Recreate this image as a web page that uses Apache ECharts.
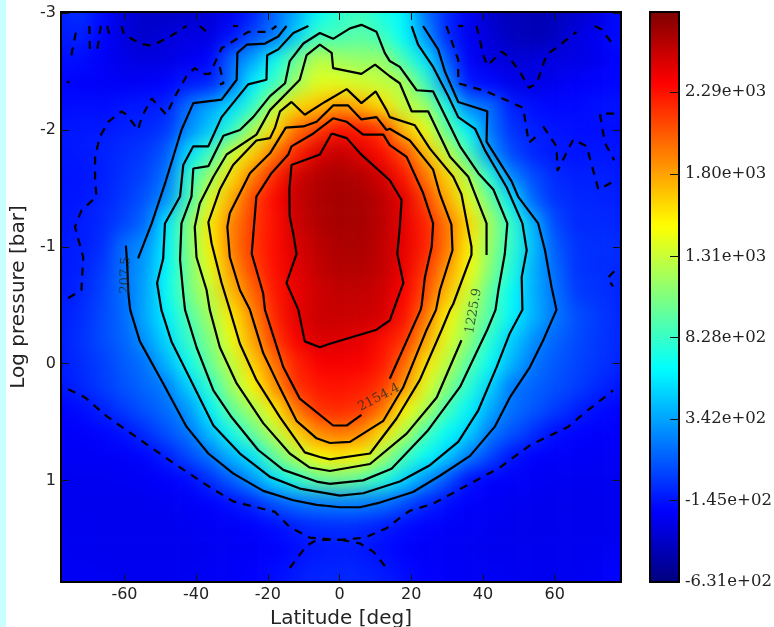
<!DOCTYPE html>
<html><head><meta charset="utf-8">
<style>
html,body{margin:0;padding:0;width:774px;height:627px;overflow:hidden;background:linear-gradient(90deg,#c8ffff 6px,#fff 6px)}
#c{position:absolute;left:0;top:-30px;width:774px;height:657px}
</style>
<script src="https://cdn.jsdelivr.net/npm/echarts@6/dist/echarts.min.js"></script>
</head><body><div id="c"></div>
<script>
const latitudes=[-84,-78,-72,-66,-60,-54,-48,-42,-36,-30,-24,-18,-12,-6,0,6,12,18,24,30,36,42,48,54,60,66,72,78,84];
const pressures=[-3.2,-3,-2.8,-2.6,-2.4,-2.2,-2,-1.8,-1.6,-1.4,-1.2,-1,-0.8,-0.6,-0.4,-0.2,0,0.2,0.4,0.6,0.8,1,1.2,1.4,1.6,1.8,2];
const field=[
[-160,-110,-60,-190,-340,-390,-410,-390,-340,-260,-110,140,340,620,780,830,700,600,140,-90,-260,-390,-440,-460,-440,-390,-310,-190,-160],
[-150,-100,-50,-180,-330,-380,-400,-380,-330,-250,-100,150,370,650,800,850,720,620,160,-70,-250,-380,-430,-450,-430,-380,-300,-180,-150],
[-150,-120,-100,-200,-320,-380,-320,-300,-300,-150,50,180,500,860,880,950,850,640,300,-80,-250,-330,-420,-450,-420,-300,-250,-170,-150],
[-170,-160,-170,-230,-280,-310,-300,-250,-200,150,350,680,1000,1280,1180,1130,1160,860,570,100,-230,-300,-340,-330,-300,-300,-260,-200,-170],
[-180,-190,-220,-230,-240,-230,-200,-130,-100,170,620,830,1180,1400,1400,1350,1290,1226,840,280,-150,-190,-270,-290,-260,-220,-200,-190,-170],
[-170,-170,-160,-170,-140,-120,-100,190,350,530,800,1290,1620,1700,1840,1750,1600,1280,1180,720,230,170,-110,-160,-190,-180,-150,-150,-150],
[-150,-140,-130,-130,-100,-80,-20,260,470,790,1220,1590,1980,2150,2300,2260,2150,1700,1440,950,620,190,-50,-100,-140,-160,-170,-170,-170],
[-160,-140,-130,-100,-60,-20,100,550,840,1340,1640,1950,2230,2460,2540,2450,2300,2100,1720,1300,860,300,30,-90,-130,-150,-130,-150,-150],
[-160,-150,-140,-110,-40,20,190,800,1170,1600,1930,2230,2500,2590,2620,2590,2490,2280,1950,1640,1230,750,240,50,-70,-110,-100,-130,-140],
[-160,-150,-130,-90,-20,80,290,860,1400,1780,2120,2330,2530,2610,2640,2630,2560,2430,2130,1760,1400,1010,570,120,-40,-80,-90,-110,-130],
[-150,-140,-120,-70,20,150,590,1090,1560,1900,2150,2300,2510,2600,2640,2630,2570,2420,2230,1950,1620,1190,800,400,30,-70,-70,-90,-120],
[-160,-130,-110,-60,180,280,620,1080,1530,1920,2170,2310,2470,2560,2610,2620,2550,2420,2240,1950,1540,1140,800,440,100,-40,-50,-60,-90],
[-150,-130,-100,-10,180,330,650,1040,1430,1830,2120,2300,2440,2540,2590,2590,2540,2400,2160,1830,1480,1080,740,390,150,-40,-50,-80,-90],
[-150,-130,-80,20,170,350,670,1030,1290,1720,2000,2270,2410,2500,2540,2540,2500,2340,2090,1690,1340,950,650,380,190,-10,-40,-90,-100],
[-150,-120,-60,40,150,370,610,900,1200,1550,1890,2230,2430,2520,2520,2510,2490,2300,1950,1520,1180,920,620,400,200,60,-10,-80,-100],
[-150,-110,-40,50,130,300,530,830,1080,1450,1800,2150,2360,2470,2450,2430,2300,2190,1790,1390,1130,760,490,270,130,40,-20,-80,-100],
[-160,-120,-60,0,100,180,410,690,1000,1300,1650,1970,2240,2360,2380,2360,2270,2010,1580,1280,930,670,400,190,90,20,-30,-90,-110],
[-170,-135,-80,-5,70,145,220,500,810,1170,1510,1860,2190,2270,2290,2260,2170,1840,1400,1090,780,500,190,130,60,0,-70,-140,-150],
[-214,-200,-170,-95,-10,75,165,300,620,980,1210,1540,1950,2180,2210,2170,1960,1510,1230,860,620,360,170,85,-5,-100,-170,-200,-205],
[-222,-218,-214,-190,-150,-50,68,187,430,710,990,1270,1630,1880,1950,1880,1580,1250,880,650,500,200,75,-50,-170,-200,-214,-218,-222],
[-240,-240,-236,-232,-222,-195,-105,40,183,400,570,980,1250,1500,1560,1510,1190,870,650,480,207,30,-150,-205,-222,-232,-236,-240,-240],
[-250,-250,-254,-254,-246,-232,-214,-180,-50,110,300,550,780,960,1010,920,770,520,290,70,-160,-205,-222,-240,-250,-254,-254,-250,-250],
[-254,-254,-258,-260,-264,-258,-250,-232,-210,-160,-70,60,170,210,230,220,180,50,-80,-170,-214,-232,-250,-258,-264,-264,-258,-254,-250],
[-250,-250,-254,-258,-264,-264,-258,-250,-240,-230,-205,-170,-110,-70,-60,-70,-120,-170,-205,-230,-240,-250,-258,-268,-264,-258,-258,-254,-250],
[-240,-250,-254,-258,-258,-258,-258,-258,-250,-240,-230,-210,-170,-130,-115,-125,-170,-210,-230,-240,-250,-258,-258,-258,-258,-258,-254,-240,-235],
[-235,-240,-240,-250,-254,-254,-254,-250,-240,-230,-210,-170,-120,-90,-80,-90,-120,-170,-205,-222,-240,-240,-250,-254,-254,-250,-240,-200,-170],
[-230,-235,-240,-245,-250,-250,-250,-245,-235,-225,-205,-165,-115,-85,-75,-85,-115,-165,-200,-218,-235,-240,-245,-250,-250,-245,-235,-190,-150]
];
const latTicks=[-60,-40,-20,0,20,40,60];
const pressureTicks=[-3,-2,-1,0,1];
const colorbarTicks=[-631,-145,342,828,1310,1800,2290];
const colorbarLabels=['-6.31e+02','-1.45e+02','3.42e+02','8.28e+02','1.31e+03','1.80e+03','2.29e+03'];
const jet=['#00007f','#0000ff','#007fff','#00ffff','#7fff7f','#ffff00','#ff7f00','#ff0000','#7f0000'];

const contour0=[[-2.2,-1.97],[2,-1.93],[5.7,-1.8],[14,-1.57],[17.3,-1.4],[16.8,-1.17],[16.1,-0.94],[17.8,-0.69],[14,-0.37],[10.3,-0.29],[-2.7,-0.17],[-5.5,-0.14],[-9.7,-0.19],[-11.5,-0.46],[-14.8,-0.69],[-12,-0.94],[-12.9,-1.11],[-13.9,-1.26],[-14,-1.49],[-13.4,-1.7],[-5.5,-1.79],[-2.2,-1.97]];
const contour1a=[[14,0.13],[22.6,-0.46],[22.9,-0.5],[23.8,-0.74],[25.7,-1],[26.1,-1.2],[23.3,-1.46],[18.7,-1.77],[14,-1.87],[12.2,-1.96],[6.6,-1.96],[2,-2.07],[-1.8,-2.1],[-7.3,-1.97],[-13.4,-1.86],[-14.3,-1.79],[-19,-1.63],[-23.2,-1.43],[-24.5,-0.94],[-21.3,-0.6],[-20.8,-0.46],[-15.7,0.03],[-11.1,0.3],[-1.8,0.53],[2,0.53],[6.1,0.44]];
const contour2=[[-2.7,0.68],[2.9,0.67],[12.2,0.49],[17.8,0.2],[24.3,-0.29],[26.9,-0.46],[28,-0.63],[31.5,-0.97],[31.2,-1.19],[28,-1.45],[26.1,-1.66],[19.6,-1.91],[14,-2.01],[13.1,-2],[10.3,-2.11],[6.1,-2.09],[2.4,-2.21],[-1.8,-2.21],[-6.4,-2.07],[-10.1,-2.03],[-15,-2.02],[-19.4,-1.8],[-25,-1.63],[-30.6,-1.29],[-31.3,-1.17],[-30.6,-0.91],[-27.8,-0.63],[-25,-0.46],[-21.3,-0.09],[-16.6,0.21],[-12,0.49],[-6.4,0.64],[-2.7,0.68]];
const contour3=[[-2.7,0.82],[8.5,0.77],[15.9,0.47],[22.4,0.14],[28.5,-0.29],[30.8,-0.46],[31.7,-0.51],[36.8,-0.93],[36.8,-1],[34,-1.45],[31.7,-1.6],[25.2,-1.84],[21,-2.04],[14,-2.11],[13.1,-2.17],[10.1,-2.33],[6.1,-2.23],[2,-2.35],[-4.1,-2.24],[-9.7,-2.13],[-13.4,-2.24],[-16.6,-2.16],[-18,-2.02],[-19.4,-1.93],[-23.2,-1.91],[-29.7,-1.7],[-33.4,-1.49],[-36.6,-1.21],[-35.7,-1.03],[-32.9,-0.69],[-30.6,-0.46],[-27.8,-0.17],[-23.2,0.14],[-16.6,0.46],[-9.7,0.76],[-5.5,0.8],[-2.7,0.82]];
const contour4a=[[34,-0.2],[27.1,0.29],[18.7,0.6],[8.5,0.86],[-2.7,0.92],[-8.3,0.89],[-13.9,0.77],[-21.3,0.51],[-28.7,0.17],[-33.4,-0.14],[-36.2,-0.46],[-37.1,-0.63],[-39.9,-0.91],[-40.4,-1.17],[-39,-1.37],[-35.2,-1.6],[-31.5,-1.79],[-23.2,-1.96],[-19.4,-2.17],[-11.1,-2.43],[-9.2,-2.64],[-5.5,-2.73],[-2.2,-2.66],[-1.8,-2.53],[6.1,-2.48],[9.9,-2.56],[14,-2.46],[16.8,-2.4],[20.1,-2.16],[24.7,-2.16],[30.8,-1.77],[35.9,-1.6],[37.3,-1.49],[41,-1.2],[41,-0.93]];
const contour5=[[-2.7,1.03],[6.6,1],[14.5,0.9],[24.7,0.57],[33.6,0.2],[41.2,-0.29],[43.5,-0.46],[44.3,-0.63],[46.1,-0.94],[46.8,-1.2],[42.9,-1.49],[38.7,-1.63],[33.6,-1.86],[26.1,-2.33],[21.5,-2.34],[16.8,-2.54],[14,-2.59],[12.6,-2.66],[10.3,-2.84],[6.1,-2.9],[2.9,-2.87],[-1.8,-2.78],[-5.5,-2.83],[-10.1,-2.74],[-13.9,-2.59],[-15.2,-2.4],[-19.4,-2.29],[-24.1,-2.11],[-27.8,-2],[-32.4,-1.95],[-36.6,-1.69],[-40.8,-1.67],[-41.3,-1.43],[-44.1,-1.2],[-44.5,-0.89],[-43.6,-0.6],[-43.1,-0.46],[-39.9,-0.14],[-35.2,0.23],[-30.1,0.46],[-22.7,0.74],[-15.7,0.91],[-6.4,1.01],[-2.7,1.03]];
const contour6=[[-8.7,-2.89],[-12.9,-2.83],[-17.1,-2.69],[-20.2,-2.64],[-20.4,-2.43],[-25.5,-2.39],[-32.9,-2.11],[-36.6,-1.86],[-40.8,-1.86],[-43.6,-1.7],[-44.5,-1.43],[-48.7,-1.2],[-49.2,-0.9],[-50.9,-0.69],[-49.7,-0.46],[-46.9,-0.19],[-41.7,0.13],[-35.2,0.53],[-27.8,0.77],[-19.4,0.97],[-11.1,1.07],[0.1,1.13],[6.6,1.11],[16.8,1.01],[25.2,0.87],[33.1,0.67],[38.7,0.4],[43.8,0.03],[47.5,-0.26],[51,-0.46],[50.8,-0.74],[52.2,-0.97],[51,-1.2],[46.6,-1.51],[40.5,-1.83],[37.8,-2.01],[33.1,-2.11],[30.3,-2.29],[26.1,-2.54],[21.9,-2.73],[20.1,-2.89]];
const contour7a=[[-14.8,-2.89],[-17.1,-2.8],[-20.8,-2.74],[-25.9,-2.73],[-28.5,-2.66],[-28.7,-2.43],[-32.9,-2.26],[-40.8,-2.23],[-44.1,-2],[-48.7,-1.54],[-52.4,-1.2],[-56.2,-0.9]];
const contour7b=[[-59.6,-1.01],[-59.2,-0.83],[-58.9,-0.6],[-58.4,-0.46],[-55.7,-0.19],[-49.2,0.17],[-42.7,0.54],[-36.6,0.77],[-29.7,0.94],[-21.3,1.09],[-12.9,1.17],[-6.4,1.21],[0.1,1.23],[5.7,1.23],[11.3,1.19],[20.5,1.1],[28,0.96],[36.4,0.79],[43.3,0.54],[47.5,0.29],[53.1,0.03],[56.8,-0.2],[60.5,-0.46],[59.1,-0.66],[57.3,-0.97],[55.4,-1.2],[49.8,-1.43],[48,-1.56],[41,-1.9],[41.2,-2.16],[33.1,-2.24],[29.4,-2.5],[27.5,-2.69],[23.3,-2.89]];
const solidContours=[contour0,contour1a,contour2,contour3,contour4a,contour5,contour6,contour7a,contour7b];

const dashedLower=[[-75.7,0.22],[-71,0.29],[-65,0.45],[-56.2,0.64],[-46.9,0.84],[-37.6,1.03],[-29.7,1.18],[-23.2,1.23],[-18,1.27],[-13.9,1.4],[-8.3,1.49],[0.1,1.51],[7.1,1.49],[13.1,1.41],[17.3,1.31],[19.6,1.26],[26.1,1.2],[34.5,1.06],[44.7,0.89],[53.1,0.7],[63.8,0.54],[68,0.43],[76.3,0.23]];
const dashedBottomLeft=[[-13.9,1.75],[-9.2,1.56],[-6.4,1.51],[0.1,1.51]];
const dashedBottomRight=[[0.5,1.51],[5.7,1.54],[9.4,1.61],[13.1,1.75]];
const dashedLeft=[[-75.7,-0.56],[-72,-0.63],[-71.5,-0.91],[-73.8,-1.17],[-72,-1.31],[-67.8,-1.43],[-68.2,-1.57],[-68.2,-1.77],[-66.9,-1.94],[-64.5,-2.07],[-60.8,-2.16],[-59.4,-2.13],[-56.2,-2],[-55.2,-2.11],[-52.4,-2.27],[-48.3,-2.13],[-45.5,-2.31],[-42.7,-2.46],[-40.4,-2.53],[-38,-2.48],[-36.2,-2.48],[-32.9,-2.7],[-29.7,-2.76],[-25.5,-2.84],[-22.7,-2.84],[-19.9,-2.84],[-17.6,-2.89]];
const dashedHook=[[-33.4,-2.54],[-32.4,-2.4],[-33.4,-2.39]];
const dashedTop1=[[-74.8,-2.64],[-73.2,-2.89]];
const dashedTop2=[[-69.8,-2.89],[-69.6,-2.64]];
const dashedTop3=[[-66.6,-2.89],[-67.8,-2.64]];
const dashedTop4=[[-64.8,-2.89],[-63.9,-2.77]];
const dashedTop5=[[-60.8,-2.89],[-60.2,-2.82],[-55.7,-2.74],[-52.4,-2.72],[-47.3,-2.8],[-42.7,-2.89]];
const dashedTop6=[[-39,-2.89],[-36.7,-2.83]];
const dashedTop7=[[-29.7,-2.89],[-28.3,-2.89]];
const dashedDot=[[-75.9,-2.42],[-75.5,-2.4]];
const dashedRight1=[[29.8,-2.89],[33.1,-2.6],[33.1,-2.4],[41,-2.33],[51.2,-2.19],[52.8,-1.89],[55.4,-1.96]];
const dashedRight2=[[56.8,-2.03],[60.5,-1.86],[60.8,-1.65],[65.2,-1.92],[68.9,-1.86],[72.2,-1.49],[75.9,-1.55]];
const dashedRight3=[[33.1,-2.89],[34.5,-2.89]];
const dashedRight4=[[38.2,-2.89],[40.1,-2.64],[41.2,-2.55],[45.2,-2.67],[47,-2.63],[50.3,-2.5],[52.8,-2.36],[55,-2.4],[57.7,-2.64],[61.5,-2.73],[66.1,-2.84]];
const dashedRight5=[[71.2,-2.89],[73.1,-2.86],[76.3,-2.73]];
const dashedRight6=[[76.6,-2.14],[72.6,-2.14],[74,-1.89],[76.6,-1.74]];
const dashedRight7=[[76.6,-0.79],[74.7,-0.73],[76.3,-0.66]];
const dashedContours=[dashedLower,dashedBottomLeft,dashedBottomRight,dashedLeft,dashedHook,dashedTop1,dashedTop2,dashedTop3,dashedTop4,dashedTop5,dashedTop6,dashedTop7,dashedDot,dashedRight1,dashedRight2,dashedRight3,dashedRight4,dashedRight5,dashedRight6,dashedRight7];

const contourLabelNames=['207.5','1225.9','2154.4'];
const contourLabelPoints=[[-59.7,-0.757],[37.4,-0.45],[11,0.29]];
const contourLabelAngles=[88,80,28];

const heatData=[];
field.forEach((row,j)=>row.forEach((v,i)=>heatData.push([i,j,v])));

const chart=echarts.init(document.getElementById('c'),null,{renderer:'canvas'});
const sans='"DejaVu Sans",sans-serif', serif='"DejaVu Serif",serif';
const tickStyle={show:true,inside:true,length:8,lineStyle:{color:'#111',width:1}};
function valueX(extra){return Object.assign({type:'value',gridIndex:1,min:-77.7,max:78.5,zlevel:1,z:10,splitLine:{show:false},axisLine:{show:false,onZero:false},
  axisTick:Object.assign({customValues:latTicks},tickStyle)},extra);}
function valueY(extra){return Object.assign({type:'value',gridIndex:1,min:-3.01,max:1.87,inverse:true,zlevel:1,z:10,splitLine:{show:false},axisLine:{show:false,onZero:false},
  axisTick:Object.assign({customValues:pressureTicks},tickStyle)},extra);}
const lineBase={type:'line',xAxisIndex:1,yAxisIndex:1,zlevel:1,z:5,symbol:'none',silent:true,animation:false,clip:true};
chart.setOption({
  animation:false,
  grid:[
    {left:27.8,top:8.2,width:623.8,height:630.2,show:false,outerBoundsMode:'none'},
    {left:61,top:42,width:560,height:570,show:true,borderColor:'#000',borderWidth:2,backgroundColor:'transparent',zlevel:1,z:10,outerBoundsMode:'none'},
    {left:650,top:42,width:29,height:570,show:true,borderColor:'#000',borderWidth:2,backgroundColor:'transparent',zlevel:1,z:10,outerBoundsMode:'none'}
  ],
  xAxis:[
    {type:'category',gridIndex:0,data:latitudes.map(String),show:false},
    valueX({position:'bottom',name:'Latitude [deg]',nameLocation:'middle',nameGap:27,
      nameTextStyle:{fontFamily:sans,fontSize:20,color:'#222'},
      axisLabel:{customValues:latTicks,margin:5,fontFamily:sans,fontSize:16,color:'#222',formatter:v=>String(v)}}),
    valueX({position:'top',axisLabel:{show:false}}),
    {type:'value',gridIndex:2,min:0,max:1,show:false,axisLine:{onZero:false}}
  ],
  yAxis:[
    {type:'category',gridIndex:0,data:pressures.map(String),inverse:true,show:false},
    valueY({position:'left',name:'Log pressure [bar]',nameLocation:'middle',nameGap:22,
      nameTextStyle:{fontFamily:sans,fontSize:20,color:'#222'},
      axisLabel:{customValues:pressureTicks,margin:5,fontFamily:sans,fontSize:16,color:'#222',formatter:v=>String(v)}}),
    valueY({position:'right',axisLabel:{show:false}}),
    {type:'value',gridIndex:2,position:'right',min:-631,max:2767,zlevel:1,z:10,splitLine:{show:false},axisLine:{show:false,onZero:false},
     axisTick:{show:true,inside:true,length:9,customValues:colorbarTicks.slice(1),lineStyle:{color:'#111',width:1}},
     axisLabel:{customValues:colorbarTicks,margin:6,fontFamily:serif,fontSize:16.5,color:'#222',
       formatter:v=>colorbarLabels[colorbarTicks.indexOf(v)]}}
  ],
  visualMap:{type:'continuous',show:true,seriesIndex:0,dimension:2,min:-631,max:2767,calculable:false,
    left:650,top:42,itemWidth:29,itemHeight:570,padding:0,text:null,zlevel:1,z:4,inRange:{color:jet}},
  series:[
    {type:'heatmap',xAxisIndex:0,yAxisIndex:0,data:heatData,zlevel:0,silent:true,progressive:0,animation:false,itemStyle:{borderWidth:0}},
    ...solidContours.map(d=>Object.assign({},lineBase,{data:d,lineStyle:{color:'#000',width:2.2}})),
    ...dashedContours.map(d=>Object.assign({},lineBase,{data:d,lineStyle:{color:'#000',width:2.2,type:[8,7]}})),
    {type:'scatter',xAxisIndex:1,yAxisIndex:1,zlevel:1,z:6,symbolSize:0,silent:true,
     data:contourLabelPoints.map((p,i)=>({value:p,label:{show:true,position:'inside',rotate:contourLabelAngles[i],formatter:contourLabelNames[i],
       fontFamily:serif,fontSize:13,color:'#1c2a28'}}))}
  ]
});
const heatCanvas=chart.getDom().querySelectorAll('canvas')[0];
heatCanvas.style.filter='blur(9px)';
heatCanvas.style.clipPath='inset(42px 153px 45px 61px)';
</script></body></html>
